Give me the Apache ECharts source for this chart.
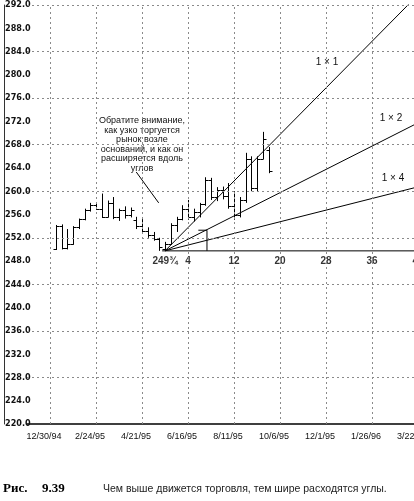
<!DOCTYPE html>
<html><head><meta charset="utf-8">
<script src="https://cdn.jsdelivr.net/npm/echarts@6/dist/echarts.min.js"></script>
<style>html,body{margin:0;padding:0;background:#fff}#c{width:414px;height:501px}</style>
</head><body><div id="c"></div>
<script>
// weeks counted from 12/30/94
const weeks  = [1,2,3,4,5,6,7,8,9,10,11,12,13,14,15,16,17,18,19,20,21,22,23,24,25,26,27,28,29,30,31,32,33,34,35,36,37,38];
const opens  = [250.0,254.0,250.3,251.0,253.8,255.2,256.8,257.6,257.0,255.6,258.0,255.5,256.8,256.0,255.0,254.0,253.2,252.5,251.8,250.0,251.0,254.2,255.3,257.0,255.6,256.5,257.8,262.0,259.0,260.2,259.2,257.5,256.0,258.5,265.5,260.5,265.5,267.0];
const highs  = [254.2,254.3,253.5,254.0,255.3,257.0,258.0,258.0,259.6,258.4,259.0,257.0,257.4,257.2,255.6,255.2,253.8,253.0,252.0,251.3,254.5,255.6,257.6,258.5,257.0,258.0,262.4,262.3,260.7,260.8,261.4,260.0,259.0,266.6,266.0,266.0,270.2,267.6];
const lows   = [249.9,250.0,250.0,250.8,253.5,255.0,256.5,256.8,255.4,255.5,255.2,254.9,255.3,255.5,253.5,253.0,252.0,251.5,249.75,249.75,250.8,253.0,255.0,255.1,254.8,255.5,257.5,258.5,258.3,258.6,257.0,255.1,255.5,258.0,260.0,260.0,265.5,263.1];
const closes = [254.0,250.3,251.0,253.8,255.2,256.8,257.6,257.0,255.6,258.0,255.5,256.8,256.0,256.8,254.0,253.2,252.5,251.8,250.5,251.0,254.2,255.3,257.0,255.6,256.5,257.8,262.0,259.0,260.2,259.2,257.5,256.0,258.5,265.5,260.5,265.5,269.0,263.5];

const dateLabels = ['12/30/94','2/24/95','4/21/95','6/16/95','8/11/95','10/6/95','12/1/95','1/26/96','3/22/96'];
const yGridValues = [228,236,244,252,260,268,276,284,292];
const xGridWeeks = [0,8,16,24,32,40,48,56,64];

const originWeek = 20, originPrice = 249.75;
const angleNames = ['1 × 1','1 × 2','1 × 4'];
const angleSlopes = [1, 0.5, 0.25];
const angleEndWeek = 66;
const secWeeks = [20,24,32,40,48,56,64];
const secLabels = ['249¾','4','12','20','28','36','44'];
const pointerLine = [[15.0,263.3],[18.9,258.0]];
const bracketLine = [[25.8,253.3],[27.3,253.3],[27.3,249.75]];

const ohlc = weeks.map((w,i)=>[w,opens[i],highs[i],lows[i],closes[i]]);
const chart = echarts.init(document.getElementById('c'), null, {renderer:'canvas'});
const blk = {color:'#000', width:1};
const series = [];
series.push({type:'line', data:[], silent:true,
  markLine:{silent:true, symbol:['none','none'], animation:false, label:{show:false},
    lineStyle:{type:[2,3], color:'#8a8a8a', width:1},
    data: yGridValues.map(v=>({yAxis:v})).concat(xGridWeeks.map(v=>({xAxis:v})))}});
series.push({type:'custom', data:ohlc, encode:{x:0,y:[1,2,3,4]}, animation:false,
  renderItem:(params, api)=>{
    const w=api.value(0), o=api.value(1), h=api.value(2), l=api.value(3), c=api.value(4);
    const pH=api.coord([w,h]), pL=api.coord([w,l]), pO=api.coord([w,o]), pC=api.coord([w,c]);
    const x=Math.round(pH[0])+0.5, t=3, st={stroke:'#000', lineWidth:1};
    return {type:'group', children:[
      {type:'line', shape:{x1:x,y1:pH[1],x2:x,y2:pL[1]}, style:st},
      {type:'line', shape:{x1:x-t,y1:Math.round(pO[1])+0.5,x2:x,y2:Math.round(pO[1])+0.5}, style:st},
      {type:'line', shape:{x1:x,y1:Math.round(pC[1])+0.5,x2:x+t,y2:Math.round(pC[1])+0.5}, style:st}
    ]};
  }});
angleSlopes.forEach((s,i)=>{
  series.push({type:'line', name:angleNames[i], symbol:'none', animation:false, lineStyle:blk,
    data:[[originWeek,originPrice],[angleEndWeek, originPrice + s*(angleEndWeek-originWeek)]]});
});
series.push({type:'line', symbol:'none', animation:false, lineStyle:blk,
  data:[[originWeek-0.5,originPrice],[angleEndWeek,originPrice]]});
series.push({type:'scatter', symbolSize:0, animation:false,
  data: secWeeks.map(w=>[w,originPrice]),
  label:{show:true, position:'bottom', distance:5, color:'#000', fontSize:10, fontWeight:'bold',
    fontFamily:'Liberation Sans', formatter:p=>secLabels[p.dataIndex]}});
series.push({type:'line', symbol:'none', animation:false, lineStyle:blk, data:pointerLine});
series.push({type:'line', symbol:'none', animation:false, lineStyle:blk, data:bracketLine});

chart.setOption({
  animation:false,
  grid:{left:27, top:5, width:402.5, height:419, containLabel:false, outerBoundsMode:'none'},
  xAxis:{type:'value', min:-4, max:66, interval:4,
    axisLine:{show:true, onZero:false, lineStyle:{color:'#000', width:1.5}},
    axisTick:{show:false}, splitLine:{show:false},
    axisLabel:{color:'#111', fontSize:9, fontFamily:'Liberation Sans', margin:8, padding:[0,12,0,0],
      showMaxLabel:false,
      formatter:v=>{ if (v%8!==0) return ''; const k=v/8; return (k>=0 && k<dateLabels.length)?dateLabels[k]:''; }}},
  yAxis:{type:'value', min:220, max:292, interval:4, offset:23,
    axisLine:{show:true, onZero:false, lineStyle:{color:'#333', width:1}},
    axisTick:{show:false}, splitLine:{show:false},
    axisLabel:{inside:true, margin:1, color:'#111', fontSize:9, fontWeight:'bold',
      fontFamily:'"Liberation Sans Narrow","DejaVu Sans Condensed",sans-serif',
      formatter:v=>v.toFixed(1)}},
  series:series,
  graphic:[
    {type:'text', x:142, y:116, style:{text:'Обратите внимание,\nкак узко торгуется\nрынок возле\nоснований, и как он\nрасширяется вдоль\nуглов',
      textAlign:'center', font:'9px "Liberation Sans"', lineHeight:9.5, fill:'#111'}},
    {type:'text', x:327, y:62, style:{text:'1 × 1', textAlign:'center', textVerticalAlign:'middle', font:'10px "Liberation Sans"', fill:'#111'}},
    {type:'text', x:391, y:118, style:{text:'1 × 2', textAlign:'center', textVerticalAlign:'middle', font:'10px "Liberation Sans"', fill:'#111'}},
    {type:'text', x:393, y:178, style:{text:'1 × 4', textAlign:'center', textVerticalAlign:'middle', font:'10px "Liberation Sans"', fill:'#111'}},
    {type:'text', x:3, y:489, style:{text:'Рис.', textVerticalAlign:'middle', font:'bold 13px "Liberation Serif"', fill:'#000'}},
    {type:'text', x:42, y:489, style:{text:'9.39', textVerticalAlign:'middle', font:'bold 13px "Liberation Serif"', fill:'#000'}},
    {type:'text', x:103, y:489, style:{text:'Чем выше движется торговля, тем шире расходятся углы.', textVerticalAlign:'middle', font:'10.5px "Liberation Sans"', fill:'#222'}}
  ]
});
</script></body></html>
